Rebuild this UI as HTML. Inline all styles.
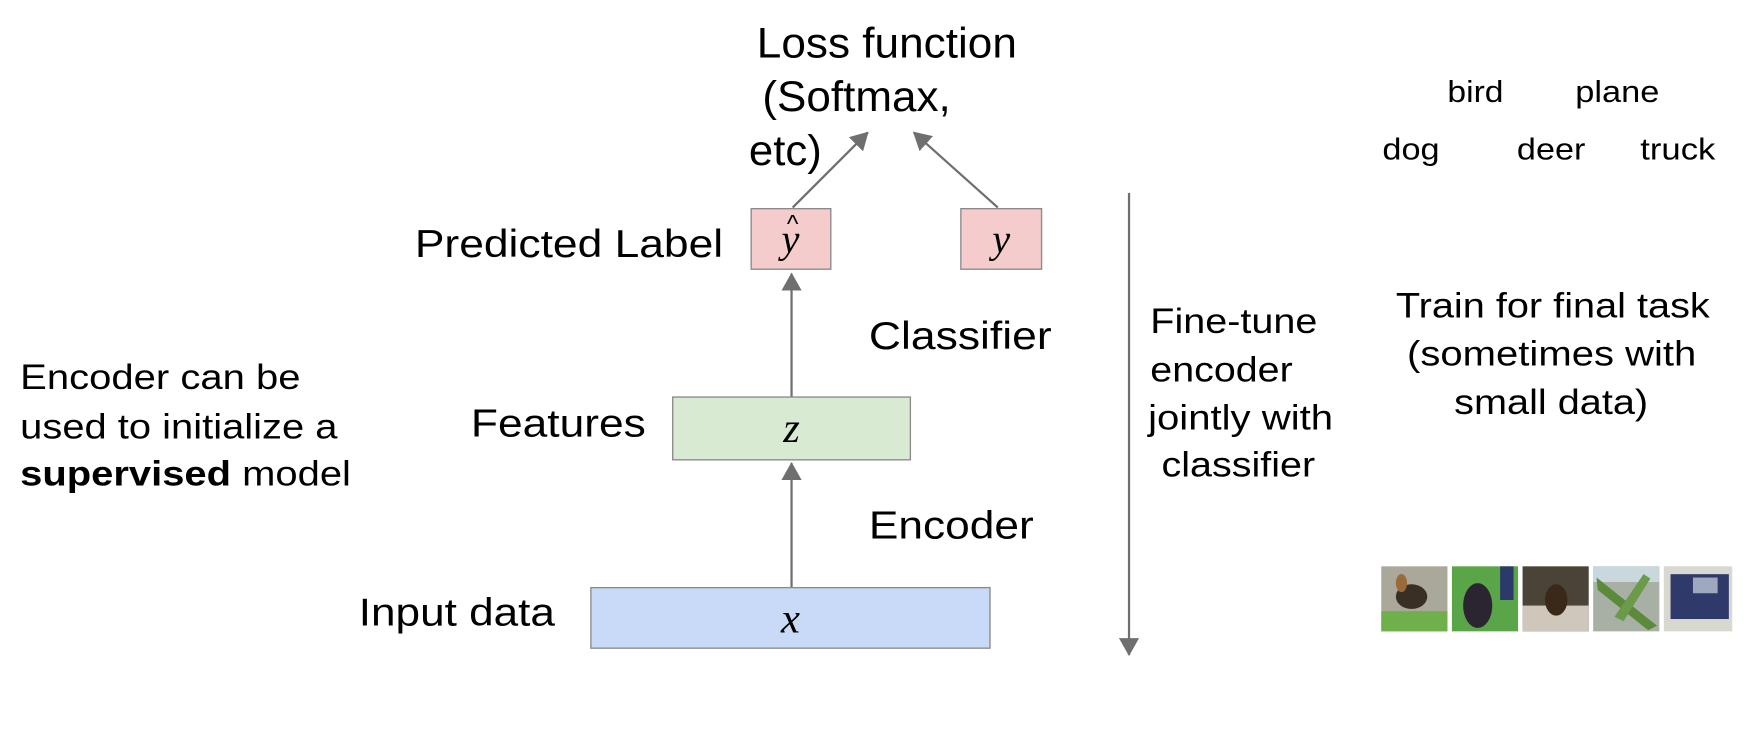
<!DOCTYPE html>
<html><head><meta charset="utf-8"><style>
html,body{margin:0;padding:0;background:#fff;width:1758px;height:738px;overflow:hidden}
svg{display:block}
text{font-family:"Liberation Sans",sans-serif;fill:#000}
.m{font-family:"Liberation Serif",serif;font-style:italic}
</style></head><body>
<svg width="1758" height="738" viewBox="0 0 1568 658" xmlns="http://www.w3.org/2000/svg">
<defs>
<marker id="b" markerWidth="16" markerHeight="18" refX="15" refY="9" orient="auto" markerUnits="userSpaceOnUse" viewBox="0 0 16 18">
<path d="M0,0 L16,9 L0,18 z" fill="#6f6f6f"/></marker>
</defs>
<g font-size="38" lengthAdjust="spacingAndGlyphs">
<text x="675" y="51" textLength="232" lengthAdjust="spacingAndGlyphs">Loss function</text>
<text x="680" y="99" textLength="168" lengthAdjust="spacingAndGlyphs">(Softmax,</text>
<text x="668" y="147" textLength="65" lengthAdjust="spacingAndGlyphs">etc)</text>
</g>
<line x1="707" y1="185" x2="774" y2="118" stroke="#6f6f6f" stroke-width="2" marker-end="url(#b)"/>
<line x1="890" y1="185" x2="815" y2="118" stroke="#6f6f6f" stroke-width="2" marker-end="url(#b)"/>
<rect x="670" y="186" width="71" height="54" fill="#f4cccc" stroke="#8a8a8a" stroke-width="1.2"/>
<rect x="857" y="186" width="72" height="54" fill="#f4cccc" stroke="#8a8a8a" stroke-width="1.2"/>
<text class="m" x="705" y="225" font-size="36" text-anchor="middle">y</text>
<text x="707" y="207" font-size="22" text-anchor="middle" font-family="Liberation Serif">^</text>
<text class="m" x="893" y="225" font-size="36" text-anchor="middle">y</text>
<text x="370" y="229" font-size="35" textLength="275" lengthAdjust="spacingAndGlyphs">Predicted Label</text>
<line x1="706" y1="354" x2="706" y2="244" stroke="#6f6f6f" stroke-width="2" marker-end="url(#b)"/>
<text x="775" y="311" font-size="35" textLength="163" lengthAdjust="spacingAndGlyphs">Classifier</text>
<rect x="600" y="354" width="212" height="56" fill="#d9ead3" stroke="#8a8a8a" stroke-width="1.2"/>
<text class="m" x="706" y="394" font-size="38" text-anchor="middle">z</text>
<text x="420" y="389" font-size="35" textLength="156" lengthAdjust="spacingAndGlyphs">Features</text>
<line x1="706" y1="524" x2="706" y2="413" stroke="#6f6f6f" stroke-width="2" marker-end="url(#b)"/>
<text x="775" y="480" font-size="35" textLength="147" lengthAdjust="spacingAndGlyphs">Encoder</text>
<rect x="527" y="524" width="356" height="54" fill="#c9daf8" stroke="#8a8a8a" stroke-width="1.2"/>
<text class="m" x="705" y="564" font-size="38" text-anchor="middle">x</text>
<text x="320" y="558" font-size="35" textLength="175" lengthAdjust="spacingAndGlyphs">Input data</text>
<g font-size="31">
<text x="18" y="347" textLength="250" lengthAdjust="spacingAndGlyphs">Encoder can be</text>
<text x="18" y="391" textLength="283" lengthAdjust="spacingAndGlyphs">used to initialize a</text>
<text x="18" y="433" textLength="295" lengthAdjust="spacingAndGlyphs"><tspan font-weight="bold">supervised</tspan> model</text>
</g>
<line x1="1007" y1="172" x2="1007" y2="584" stroke="#6f6f6f" stroke-width="2" marker-end="url(#b)"/>
<g font-size="31">
<text x="1026" y="297" textLength="149" lengthAdjust="spacingAndGlyphs">Fine-tune</text>
<text x="1026" y="340" textLength="127" lengthAdjust="spacingAndGlyphs">encoder</text>
<text x="1024" y="383" textLength="165" lengthAdjust="spacingAndGlyphs">jointly with</text>
<text x="1036" y="425" textLength="137" lengthAdjust="spacingAndGlyphs">classifier</text>
</g>
<g font-size="31">
<text x="1245" y="283" textLength="280" lengthAdjust="spacingAndGlyphs">Train for final task</text>
<text x="1255" y="326" textLength="258" lengthAdjust="spacingAndGlyphs">(sometimes with</text>
<text x="1297" y="369" textLength="173" lengthAdjust="spacingAndGlyphs">small data)</text>
</g>
<g font-size="27">
<text x="1291" y="91" textLength="50" lengthAdjust="spacingAndGlyphs">bird</text>
<text x="1405" y="91" textLength="75" lengthAdjust="spacingAndGlyphs">plane</text>
<text x="1233" y="142" textLength="51" lengthAdjust="spacingAndGlyphs">dog</text>
<text x="1353" y="142" textLength="61" lengthAdjust="spacingAndGlyphs">deer</text>
<text x="1463" y="142" textLength="67" lengthAdjust="spacingAndGlyphs">truck</text>
</g>
<g>
<rect x="1232" y="505" width="59" height="58" fill="#a9a89a"/>
<rect x="1232" y="545" width="59" height="18" fill="#6fb04a"/>
<ellipse cx="1259" cy="532" rx="14" ry="11" fill="#3a2f25"/>
<ellipse cx="1250" cy="520" rx="5" ry="8" fill="#9a6a3a"/>
<rect x="1295" y="505" width="59" height="58" fill="#5aa548"/>
<ellipse cx="1318" cy="540" rx="13" ry="20" fill="#2a2530"/>
<rect x="1338" y="505" width="12" height="30" fill="#2b3a6a"/>
<rect x="1358" y="505" width="59" height="58" fill="#4a4438"/>
<rect x="1358" y="540" width="59" height="23" fill="#cfc7bc"/>
<ellipse cx="1388" cy="535" rx="10" ry="14" fill="#3a2818"/>
<rect x="1421" y="505" width="59" height="58" fill="#a8b0a5"/>
<rect x="1421" y="505" width="59" height="14" fill="#c8d8dc"/>
<path d="M1424,515 L1478,558 L1470,562 L1425,526 z" fill="#5a8a3a"/>
<path d="M1440,550 L1466,512 L1472,516 L1448,554 z" fill="#6a9a4a"/>
<rect x="1484" y="505" width="61" height="58" fill="#d8d8d0"/>
<rect x="1490" y="512" width="52" height="40" fill="#303a6a"/>
<rect x="1510" y="515" width="22" height="14" fill="#a0a8c0"/>
</g>
</svg>
</body></html>
